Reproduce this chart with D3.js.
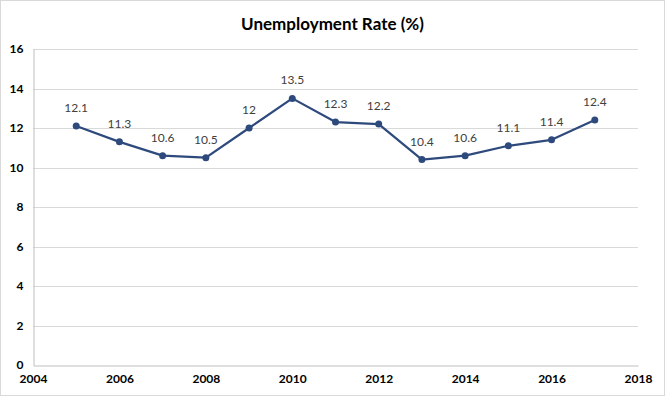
<!DOCTYPE html>
<html>
<head>
<meta charset="utf-8">
<script src="https://d3js.org/d3.v7.min.js"></script>
<style>
  body { margin: 0; background: #fff; }
  svg { display: block; font-family: Lato, "Open Sans", sans-serif; }
</style>
</head>
<body>
<script>
// values
const years = [2005, 2006, 2007, 2008, 2009, 2010, 2011, 2012, 2013, 2014, 2015, 2016, 2017];
const rates = [12.1, 11.3, 10.6, 10.5, 12, 13.5, 12.3, 12.2, 10.4, 10.6, 11.1, 11.4, 12.4];
const xTicks = [2004, 2006, 2008, 2010, 2012, 2014, 2016, 2018];
const yTicks = [0, 2, 4, 6, 8, 10, 12, 14, 16];

const W = 665, H = 396;
const m = { top: 49, right: 27, bottom: 31, left: 33 };

const svg = d3.select('body').append('svg').attr('width', W).attr('height', H);

// outer chart border
svg.append('rect')
  .attr('x', 0.5).attr('y', 0.5).attr('width', W - 1).attr('height', H - 1)
  .attr('fill', '#fff').attr('stroke', '#d9d9d9');

const x = d3.scaleLinear().domain([2004, 2018]).range([m.left, W - m.right]);
const y = d3.scaleLinear().domain([0, 16]).range([H - m.bottom, m.top]);

svg.append('text')
  .attr('x', W / 2).attr('y', 30)
  .attr('text-anchor', 'middle')
  .attr('font-size', 17).attr('font-weight', 'bold').attr('fill', '#000')
  .text('Unemployment Rate (%)');

// horizontal gridlines
svg.append('g').selectAll('line').data(yTicks.filter(d => d > 0)).join('line')
  .attr('x1', x(2004)).attr('x2', x(2018))
  .attr('y1', d => Math.round(y(d)) + 0.5).attr('y2', d => Math.round(y(d)) + 0.5)
  .attr('stroke', '#d9d9d9');

// y axis
const yAxis = svg.append('g')
  .attr('transform', `translate(${m.left + 0.5},0)`)
  .call(d3.axisLeft(y).tickValues(yTicks).tickSize(0).tickPadding(10));
yAxis.select('.domain').attr('stroke', '#bfbfbf');

// x axis
const xAxis = svg.append('g')
  .attr('transform', `translate(0,${Math.round(y(0)) + 0.5})`)
  .call(d3.axisBottom(x).tickValues(xTicks).tickFormat(d3.format('d')).tickSize(0).tickPadding(9));
xAxis.select('.domain').attr('stroke', '#bfbfbf');

svg.selectAll('.tick text')
  .attr('font-size', 12).attr('font-weight', 'bold').attr('fill', '#000')
  .attr('font-family', 'Lato, "Open Sans", sans-serif');

const pts = years.map((yr, i) => ({ yr, v: rates[i] }));

svg.append('path')
  .datum(pts)
  .attr('fill', 'none')
  .attr('stroke', '#2e4a7d')
  .attr('stroke-width', 2.25)
  .attr('stroke-linejoin', 'round')
  .attr('d', d3.line().x(d => x(d.yr)).y(d => y(d.v)));

svg.append('g').selectAll('circle').data(pts).join('circle')
  .attr('cx', d => x(d.yr)).attr('cy', d => y(d.v))
  .attr('r', 3.5).attr('fill', '#2e4a7d');

svg.append('g').selectAll('text').data(pts).join('text')
  .attr('x', d => x(d.yr)).attr('y', d => y(d.v) - 14)
  .attr('text-anchor', 'middle')
  .attr('font-size', 12).attr('fill', '#404040')
  .text(d => d.v);
</script>
</body>
</html>
